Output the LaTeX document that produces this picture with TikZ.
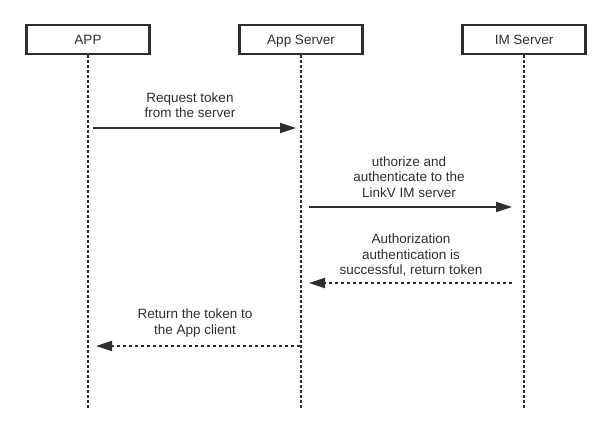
\documentclass[tikz,border=0pt]{standalone}
\usepackage{fontspec}
\setmainfont{Liberation Sans}
\usetikzlibrary{arrows.meta}
\definecolor{ink}{HTML}{2E2E2E}
\begin{document}
\begin{tikzpicture}[x=1pt,y=-1pt,
  actor/.style={draw=ink,line width=2.2pt,minimum width=123pt,minimum height=29pt,inner sep=0pt,text height=9.5pt,text depth=0pt,font=\fontsize{13.5}{16}\selectfont,text=ink},
  life/.style={draw=ink,line width=2pt,dash pattern=on 2.5pt off 2.5pt},
  msg/.style={draw=ink,line width=2pt,-{Triangle[length=16pt,width=10pt]}},
  reply/.style={msg,dash pattern=on 3pt off 3pt},
  lbl/.style={align=center,font=\fontsize{13.5}{15.5}\selectfont,text=ink,inner sep=0pt}]
\useasboundingbox (0,0) rectangle (609,432);
\node[actor] (app) at (88,39.5) {APP};
\node[actor] (srv) at (301,39.5) {App Server};
\node[actor] (im) at (524,39.5) {IM Server};
\coordinate (appE) at (88,408);
\coordinate (srvE) at (301,408);
\coordinate (imE) at (524,408);
\draw[life] (app.south) -- (appE);
\draw[life] (srv.south) -- (srvE);
\draw[life] (im.south) -- (imE);
% message 1
\coordinate (m1s) at (93,128);
\coordinate (m1e) at (296,128);
\draw[msg] (m1s) -- (m1e);
\node[lbl] (l1) at (190,105) {Request token\\from the server};
% message 2
\coordinate (m2s) at (309,207);
\coordinate (m2e) at (512,207);
\draw[msg] (m2s) -- (m2e);
\node[lbl] (l2) at (409,177) {uthorize and\\authenticate to the\\LinkV IM server};
% message 3
\coordinate (m3s) at (512,283);
\coordinate (m3e) at (309,283);
\draw[reply] (m3s) -- (m3e);
\node[lbl] (l3) at (411,255) {Authorization\\authentication is\\successful, return token};
% message 4
\coordinate (m4s) at (300,346);
\coordinate (m4e) at (96,346);
\draw[reply] (m4s) -- (m4e);
\node[lbl] (l4) at (195,323) {Return the token to\\the App client};
\end{tikzpicture}
\end{document}
